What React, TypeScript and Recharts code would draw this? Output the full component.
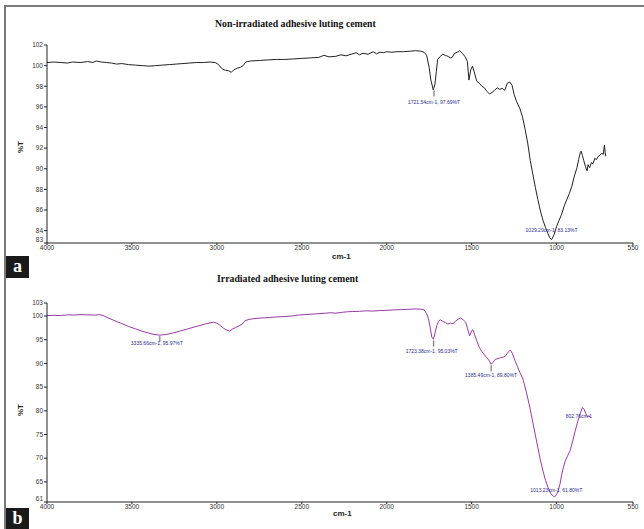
import React from "react";
import { LineChart, Line, XAxis, YAxis, ReferenceDot } from "recharts";

// Non-irradiated adhesive luting cement: [wavenumber cm-1, %T]
const nonIrradiated: [number, number][] = [
  [4000, 100.3], [3960, 100.35], [3920, 100.3], [3880, 100.25], [3850, 100.35], [3800, 100.3],
  [3760, 100.4], [3730, 100.3], [3710, 100.45], [3680, 100.35], [3650, 100.3], [3620, 100.25],
  [3590, 100.15], [3560, 100.2], [3520, 100.1], [3480, 100.05], [3440, 100.0], [3400, 99.95],
  [3360, 100.0], [3320, 100.05], [3280, 100.1], [3240, 100.15], [3200, 100.2], [3160, 100.25],
  [3120, 100.3], [3080, 100.3], [3040, 100.35], [3010, 100.3], [2990, 100.1], [2970, 99.7],
  [2950, 99.55], [2930, 99.5], [2915, 99.35], [2900, 99.6], [2880, 99.75], [2860, 99.85],
  [2845, 100.0], [2830, 100.35], [2800, 100.45], [2750, 100.5], [2700, 100.55], [2650, 100.6],
  [2600, 100.6], [2550, 100.65], [2500, 100.7], [2450, 100.75], [2400, 100.8], [2370, 101.0],
  [2340, 100.85], [2300, 100.9], [2270, 101.05], [2240, 100.95], [2210, 101.1], [2180, 101.25],
  [2160, 101.05], [2140, 101.2], [2110, 101.1], [2080, 101.35], [2060, 101.15], [2040, 101.3],
  [2020, 101.25], [2000, 101.35], [1970, 101.3], [1940, 101.35], [1900, 101.35], [1860, 101.4],
  [1830, 101.45], [1800, 101.4], [1780, 101.3], [1765, 101.0], [1750, 99.8], [1740, 98.6],
  [1726, 97.65], [1716, 98.2], [1708, 99.4], [1700, 100.6], [1685, 100.9], [1670, 101.1],
  [1655, 101.0], [1640, 100.9], [1625, 100.75], [1615, 100.8], [1600, 101.2], [1585, 101.3],
  [1570, 101.45], [1555, 101.2], [1540, 100.9], [1525, 100.4], [1516, 98.6], [1505, 99.6],
  [1495, 99.95], [1485, 99.4], [1470, 98.5], [1455, 98.3], [1440, 98.0], [1425, 97.85],
  [1410, 97.5], [1395, 97.25], [1380, 97.4], [1365, 97.6], [1350, 97.85], [1335, 97.7],
  [1320, 97.8], [1305, 97.6], [1290, 98.3], [1275, 98.4], [1262, 98.1], [1250, 97.2],
  [1235, 96.5], [1215, 95.8], [1200, 95.0], [1185, 93.8], [1170, 92.5], [1155, 90.8],
  [1140, 89.5], [1125, 88.2], [1110, 87.0], [1095, 85.9], [1080, 85.0], [1065, 84.3],
  [1050, 83.7], [1040, 83.3], [1029, 83.13], [1015, 83.6], [1000, 84.4], [985, 85.0],
  [970, 85.6], [955, 86.4], [940, 87.0], [925, 87.6], [910, 88.3], [895, 89.3],
  [880, 90.1], [870, 90.9], [860, 91.6], [855, 91.7], [848, 91.3], [840, 90.8],
  [830, 90.2], [820, 89.8], [815, 90.4], [805, 90.1], [795, 90.6], [785, 90.5],
  [775, 91.0], [765, 90.9], [755, 91.2], [745, 91.3], [735, 91.5], [725, 91.4],
  [718, 92.3], [714, 91.6], [710, 91.2],
];

// Irradiated adhesive luting cement: [wavenumber cm-1, %T]
const irradiated: [number, number][] = [
  [4000, 100.1], [3960, 100.15], [3920, 100.1], [3880, 100.25], [3840, 100.2], [3800, 100.3],
  [3760, 100.25], [3720, 100.2], [3690, 100.3], [3670, 100.1], [3640, 99.6], [3600, 99.0],
  [3560, 98.4], [3520, 97.8], [3480, 97.3], [3440, 96.8], [3400, 96.4], [3370, 96.1],
  [3335, 95.97], [3300, 96.1], [3260, 96.4], [3220, 96.8], [3180, 97.2], [3140, 97.6],
  [3100, 98.0], [3060, 98.4], [3020, 98.7], [3000, 98.5], [2980, 98.0], [2960, 97.4],
  [2940, 97.0], [2925, 96.8], [2910, 97.2], [2890, 97.6], [2870, 97.9], [2850, 98.3],
  [2835, 99.0], [2810, 99.3], [2770, 99.5], [2730, 99.6], [2690, 99.7], [2650, 99.8],
  [2600, 99.9], [2560, 100.0], [2520, 100.2], [2480, 100.3], [2440, 100.4], [2400, 100.5],
  [2360, 100.6], [2330, 100.7], [2300, 100.6], [2260, 100.8], [2230, 100.9], [2200, 100.95],
  [2160, 101.0], [2120, 101.1], [2080, 101.05], [2040, 101.15], [2000, 101.2], [1960, 101.3],
  [1920, 101.35], [1880, 101.4], [1840, 101.5], [1800, 101.45], [1780, 101.3], [1765, 100.5],
  [1755, 99.5], [1745, 97.8], [1735, 95.6], [1725, 95.1], [1715, 96.5], [1705, 98.0],
  [1695, 98.9], [1685, 99.2], [1670, 98.9], [1655, 98.6], [1640, 98.3], [1625, 98.5],
  [1610, 98.4], [1595, 98.9], [1580, 99.3], [1565, 99.6], [1550, 99.2], [1535, 98.7],
  [1525, 97.5], [1512, 95.8], [1500, 96.9], [1492, 97.1], [1480, 95.8], [1468, 94.6],
  [1455, 93.4], [1440, 92.5], [1425, 91.8], [1410, 91.2], [1395, 90.5], [1385, 89.8],
  [1375, 90.2], [1360, 90.9], [1345, 91.0], [1330, 91.2], [1315, 91.3], [1300, 91.6],
  [1285, 92.4], [1272, 92.8], [1260, 92.1], [1245, 90.6], [1230, 89.3], [1215, 88.0],
  [1200, 86.9], [1185, 85.0], [1170, 82.7], [1155, 80.3], [1140, 77.6], [1125, 74.9],
  [1110, 72.2], [1095, 69.6], [1080, 67.3], [1065, 65.3], [1050, 63.8], [1035, 62.6],
  [1020, 62.0], [1013, 61.8], [1000, 62.3], [990, 63.2], [980, 64.5], [970, 66.5],
  [960, 68.0], [950, 69.3], [935, 70.5], [920, 71.6], [905, 73.6], [890, 75.8],
  [875, 77.8], [860, 79.5], [848, 80.7], [838, 80.3], [828, 79.4], [818, 78.7],
  [810, 79.0], [802, 78.6],
];

const xTicks = [4000, 3500, 3000, 2500, 2000, 1500, 1000, 550];
const topYTicks = [82.8, 84, 86, 88, 90, 92, 94, 96, 98, 100, 102];
const bottomYTicks = [60.75, 65, 70, 75, 80, 85, 90, 95, 100, 102.75];

const topTitle = "Non-irradiated adhesive luting cement";
const bottomTitle = "Irradiated adhesive luting cement";

const topPeaks = [
  { w: 1721.54, t: 97.69, text: "1721.54cm-1, 97.69%T" },
  { w: 1029.29, t: 83.13, text: "1029.29cm-1, 83.13%T" },
];
const bottomPeaks = [
  { w: 3335.66, t: 95.97, text: "3335.66cm-1, 95.97%T" },
  { w: 1723.38, t: 95.03, text: "1723.38cm-1, 95.03%T" },
  { w: 1385.49, t: 89.8, text: "1385.49cm-1, 89.80%T" },
  { w: 1013.23, t: 61.8, text: "1013.23cm-1, 61.80%T" },
  { w: 802.76, t: 78.6, text: "802.76cm-1" },
];

// label placement per annotation (style only)
const topPlace = [
  { dx: 0, dy: 12.5, tick: true, anchor: "middle" },
  { dx: 0, dy: -9.5, tick: false, anchor: "middle" },
];
const bottomPlace = [
  { dx: -3, dy: 8, tick: true, anchor: "middle" },
  { dx: -2, dy: 12, tick: true, anchor: "middle" },
  { dx: 0, dy: 11, tick: true, anchor: "middle" },
  { dx: 2, dy: -7, tick: false, anchor: "middle" },
  { dx: 2, dy: -1, tick: false, anchor: "end" },
];

const toRows = (s: [number, number][]) => s.map(([w, t]) => ({ w, t }));

const FONT = "Liberation Sans, Arial, sans-serif";
const tickStyle = { fontSize: 6.5, fill: "#333", fontFamily: FONT };
const annColor = "#2b2b8c";

function makeShape(text: string, pl: any) {
  return (p: any) => {
    const { cx, cy } = p;
    if (cx == null || cy == null) return null;
    return (
      <g>
        {pl.tick && <line x1={cx} y1={cy + 1} x2={cx} y2={cy + 7} stroke="#333" strokeWidth={0.8} />}
        <text
          x={cx + pl.dx}
          y={cy + pl.dy + 1.8}
          textAnchor={pl.anchor}
          fontSize={5}
          fill={annColor}
          fontFamily={FONT}
        >
          {text}
        </text>
      </g>
    );
  };
}

// Y tick: the lowest label is nudged up a little so it clears the first x label
const YTick = (p: any) => {
  const { x, y, payload, index } = p;
  const lift = index === 0 ? -3 : 0;
  return (
    <text x={x} y={y + lift} dy="0.35em" textAnchor="end" fontSize={6.5} fill="#333" fontFamily={FONT}>
      {String(Math.round(payload.value))}
    </text>
  );
};

function Panel(props: {
  data: [number, number][];
  yTicks: number[];
  peaks: { w: number; t: number; text: string }[];
  place: any[];
  color: string;
  height: number;
  marginTop: number;
  xAxisHeight: number;
}) {
  const { data, yTicks, peaks, place, color, height, marginTop, xAxisHeight } = props;
  return (
    <LineChart
      width={644}
      height={height}
      data={toRows(data)}
      margin={{ top: marginTop, right: 11, bottom: 0, left: 0 }}
    >
      <XAxis
        dataKey="w"
        type="number"
        domain={[550, 4000]}
        reversed
        ticks={xTicks}
        interval={0}
        allowDataOverflow
        height={xAxisHeight}
        tick={tickStyle}
        tickSize={2}
        tickMargin={0}
        stroke="#222"
        axisLine={{ stroke: "#222", strokeWidth: 1 }}
      />
      <YAxis
        type="number"
        domain={[yTicks[0], yTicks[yTicks.length - 1]]}
        ticks={yTicks}
        interval={0}
        allowDataOverflow
        width={47}
        tick={<YTick />}
        tickSize={3}
        tickMargin={1}
        stroke="#222"
        axisLine={{ stroke: "#222", strokeWidth: 1 }}
      />
      <Line
        dataKey="t"
        type="linear"
        stroke={color}
        strokeWidth={1}
        dot={false}
        isAnimationActive={false}
      />
      {peaks.map((pk, i) => (
        <ReferenceDot
          key={i}
          x={pk.w}
          y={pk.t}
          r={0}
          ifOverflow="visible"
          shape={makeShape(pk.text, place[i])}
        />
      ))}
    </LineChart>
  );
}

const abs = (left: number, top: number, extra: React.CSSProperties = {}): React.CSSProperties => ({
  position: "absolute",
  left,
  top,
  ...extra,
});

const titleStyle: React.CSSProperties = {
  fontFamily: "Liberation Serif, serif",
  fontWeight: "bold",
  fontSize: 9.8,
  lineHeight: "12px",
  whiteSpace: "nowrap",
  color: "#111",
};

const axisTitleStyle: React.CSSProperties = {
  fontFamily: FONT,
  fontWeight: "bold",
  fontSize: 8,
  lineHeight: "10px",
  color: "#222",
};

export default function App() {
  return (
    <div style={{ position: "absolute", left: 0, top: 0, width: 644, height: 529, background: "#fff", overflow: "hidden" }}>
      {/* frame */}
      <div style={abs(4, 5, { width: 640, height: 2, background: "#7a7a7a" })} />
      <div style={abs(4, 5, { width: 2, height: 524, background: "#7a7a7a" })} />

      <div style={abs(0, 0)}>
        <Panel
          data={nonIrradiated}
          yTicks={topYTicks}
          peaks={topPeaks}
          place={topPlace}
          color="#222"
          height={260}
          marginTop={45}
          xAxisHeight={17}
        />
      </div>
      <div style={abs(0, 260)}>
        <Panel
          data={irradiated}
          yTicks={bottomYTicks}
          peaks={bottomPeaks}
          place={bottomPlace}
          color="#9a3aa6"
          height={269}
          marginTop={43}
          xAxisHeight={27}
        />
      </div>

      {/* titles */}
      <div style={abs(215, 18, titleStyle)}>{topTitle}</div>
      <div style={abs(217, 273, titleStyle)}>{bottomTitle}</div>

      {/* axis titles */}
      <div style={abs(13, 142, { ...axisTitleStyle, width: 16, textAlign: "center", transform: "rotate(-90deg)" })}>%T</div>
      <div style={abs(13, 405, { ...axisTitleStyle, width: 16, textAlign: "center", transform: "rotate(-90deg)" })}>%T</div>
      <div style={abs(332, 252, axisTitleStyle)}>cm-1</div>
      <div style={abs(333, 509, axisTitleStyle)}>cm-1</div>

      {/* panel labels */}
      <div style={abs(6, 256, { width: 23, height: 22, background: "#1a1a1a", color: "#fff", fontFamily: "Liberation Serif, serif", fontWeight: "bold", fontSize: 18, lineHeight: "20px", textAlign: "center" })}>
        a
      </div>
      <div style={abs(6, 508, { width: 23, height: 21, background: "#1a1a1a", color: "#fff", fontFamily: "Liberation Serif, serif", fontWeight: "bold", fontSize: 18, lineHeight: "21px", textAlign: "center" })}>
        b
      </div>
    </div>
  );
}
